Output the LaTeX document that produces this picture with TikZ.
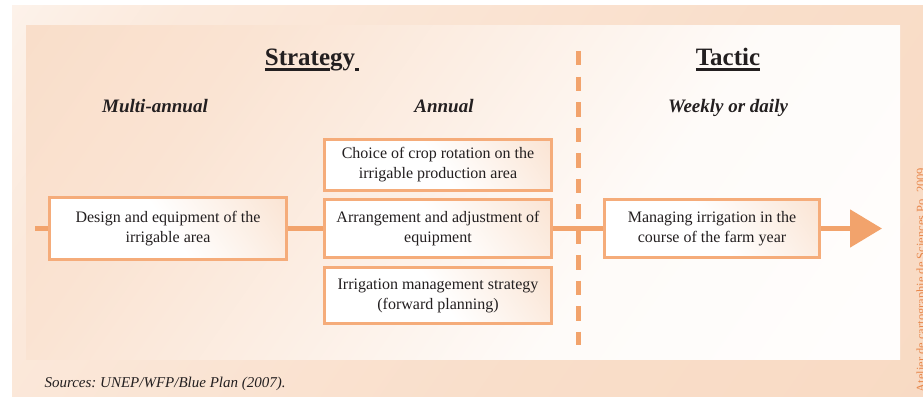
\documentclass[tikz,border=0pt]{standalone}
\usepackage{fontspec}
\setmainfont{Liberation Serif}
\usetikzlibrary{arrows.meta}
\usetikzlibrary{positioning}
\definecolor{lineorange}{RGB}{242,163,108}
\definecolor{boxorange}{RGB}{245,172,122}
\definecolor{peach}{RGB}{248,216,192}
\definecolor{textgray}{RGB}{35,31,32}
\definecolor{creditorange}{RGB}{232,136,76}
\pgfdeclarehorizontalshading{outerfade}{100bp}{color(0bp)=(white); color(25bp)=(peach!55!white); color(60bp)=(peach!85!white); color(100bp)=(peach)}
\pgfdeclarehorizontalshading{innerfade}{100bp}{color(0bp)=(peach); color(30bp)=(peach!70!white); color(62bp)=(peach!10!white); color(100bp)=(white)}
\pgfdeclarehorizontalshading{boxfade}{100bp}{color(0bp)=(white); color(50bp)=(white); color(100bp)=(peach)}
\newcommand{\thickul}[1]{\sbox0{#1}\rlap{\rule[-4.5pt]{\wd0}{2.4pt}}\usebox0}

\begin{document}
\begin{tikzpicture}
    [
    x=1pt, y=-1pt,
    stage/.style = {draw=boxorange,line width=3pt,shading=boxfade,shading angle=35,align=center,inner sep=0pt,text=textgray,font=\fontsize{16}{20}\selectfont},
    flow/.style = {draw=lineorange,line width=5pt},
    head/.style = {text=textgray,font=\fontsize{25}{30}\selectfont\bfseries},
    period/.style = {text=textgray,font=\fontsize{19}{23}\selectfont\bfseries\itshape}
    ]
\useasboundingbox (0,0) rectangle (923,396);
\begin{scope}
\clip (0,0) rectangle (923,396);
\fill[shading=outerfade,shading angle=-35] (12,6) rectangle (930,400);
\fill[shading=innerfade,shading angle=-35] (26,26) rectangle (900,359);
\node[rotate=90,anchor=base west,text=creditorange,font=\fontsize{12.5}{15}\selectfont] (credit) at (925,396) {Atelier de cartographie de Sciences Po, 2009};
\end{scope}

\node[head,anchor=base] (strategy) at (312,66) {\thickul{Strate}gy\thickul{\kern4pt}};
\node[head,anchor=base] (tactic) at (728,66) {\thickul{Tactic}};
\node[period,anchor=base] (multi) at (155,112) {Multi-annual};
\node[period,anchor=base] (annual) at (444,112) {Annual};
\node[period,anchor=base] (weekly) at (728,112) {Weekly or daily};

\draw[lineorange,line width=5pt,dash pattern=on 14.5pt off 11pt] (578,51) -- (578,345);

\node[stage,minimum width=237pt,minimum height=62pt] (design) at (168,228.5) {Design and equipment of the\\irrigable area};
\node[stage,minimum width=227pt,minimum height=51pt] (rotation) at (438,165) {Choice of crop rotation on the\\irrigable production area};
\node[stage,minimum width=227pt,minimum height=58pt] (arrange) at (438,228.5) {Arrangement and adjustment of\\equipment};
\node[stage,minimum width=227pt,minimum height=56pt] (plan) at (438,295.5) {Irrigation management strategy\\(forward planning)};
\node[stage,minimum width=215pt,minimum height=58pt] (manage) at (712,228.5) {Managing irrigation in the\\course of the farm year};

\coordinate (start) at (35,228.5);
\coordinate (tip) at (882,228.5);
\draw[flow] (start) -- (design.west);
\draw[flow] (design.east) -- (arrange.west);
\draw[flow] (arrange.east) -- (manage.west);
\draw[flow,-{Triangle[length=32pt,width=37pt]}] (manage.east) -- (tip);

\node[anchor=base west,text=textgray,font=\fontsize{15}{18}\selectfont\itshape] (sources) at (41,387) {Sources:\ UNEP/WFP/Blue Plan (2007).};
\end{tikzpicture}
\end{document}
